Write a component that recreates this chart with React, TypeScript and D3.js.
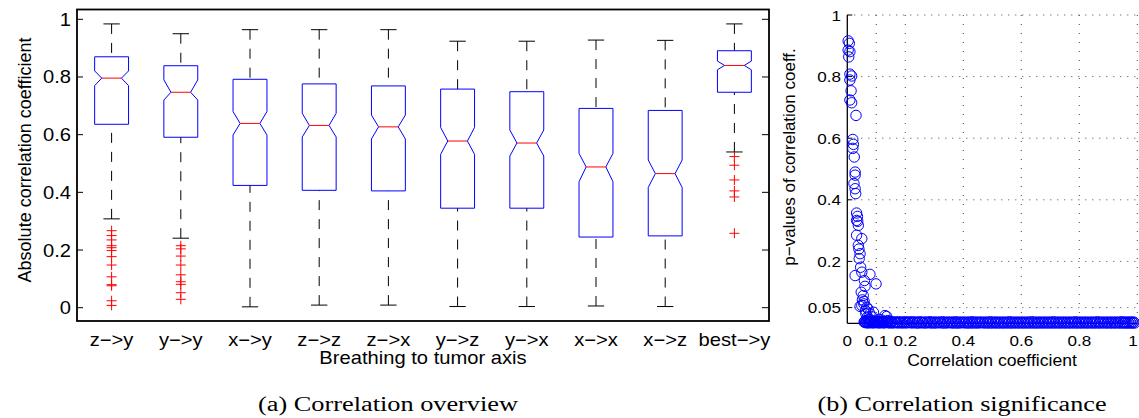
import React from "react";
import * as d3 from "d3";

// ---------- Panel (a): box plot data ----------
const categories = ["z\u2212>y", "y\u2212>y", "x\u2212>y", "z\u2212>z", "z\u2212>x", "y\u2212>z", "y\u2212>x", "x\u2212>x", "x\u2212>z", "best\u2212>y"];
const whiskerHigh = [0.984, 0.950, 0.964, 0.964, 0.964, 0.924, 0.924, 0.928, 0.927, 0.984];
const q3 = [0.870, 0.839, 0.792, 0.776, 0.769, 0.758, 0.749, 0.691, 0.684, 0.891];
const notchHigh = [0.821, 0.790, 0.680, 0.674, 0.668, 0.625, 0.616, 0.535, 0.512, 0.855];
const medians = [0.796, 0.747, 0.639, 0.632, 0.627, 0.578, 0.571, 0.488, 0.465, 0.840];
const notchLow = [0.770, 0.720, 0.599, 0.592, 0.585, 0.532, 0.526, 0.437, 0.417, 0.825];
const q1 = [0.636, 0.591, 0.424, 0.407, 0.405, 0.345, 0.345, 0.245, 0.249, 0.747];
const whiskerLow = [0.308, 0.241, 0.003, 0.009, 0.009, 0.004, 0.004, 0.006, 0.004, 0.540];
const outliersZY = [0.267, 0.250, 0.235, 0.215, 0.208, 0.198, 0.177, 0.148, 0.107, 0.080, 0.076, 0.024, 0.008];
const outliersYY = [0.215, 0.204, 0.179, 0.148, 0.114, 0.090, 0.081, 0.052, 0.029];
const outliersBest = [0.524, 0.494, 0.443, 0.405, 0.384, 0.258];
const outliers = [outliersZY, outliersYY, [], [], [], [], [], [], [], outliersBest];
const leftYTicks = [0, 0.2, 0.4, 0.6, 0.8, 1];

// ---------- Panel (b): scatter data ----------
const upperPoints: [number, number][] = [
  [0.003, 0.916], [0.007, 0.908], [0.003, 0.886], [0.009, 0.881], [0.005, 0.864],
  [0.009, 0.808], [0.015, 0.802], [0.009, 0.789], [0.013, 0.754], [0.009, 0.724],
  [0.015, 0.715], [0.030, 0.674], [0.019, 0.596], [0.021, 0.580], [0.019, 0.567],
  [0.024, 0.539], [0.027, 0.490], [0.027, 0.480], [0.023, 0.453], [0.027, 0.436],
  [0.029, 0.420], [0.032, 0.357], [0.035, 0.346], [0.032, 0.333], [0.036, 0.330],
  [0.038, 0.317], [0.032, 0.285], [0.050, 0.274], [0.038, 0.252], [0.040, 0.240],
  [0.044, 0.225], [0.041, 0.209], [0.046, 0.181], [0.027, 0.154], [0.050, 0.165],
  [0.078, 0.158], [0.059, 0.138], [0.099, 0.127], [0.061, 0.119], [0.048, 0.100],
  [0.055, 0.089], [0.052, 0.075], [0.058, 0.070], [0.057, 0.062], [0.050, 0.057],
  [0.044, 0.054], [0.067, 0.051], [0.072, 0.045], [0.063, 0.040], [0.090, 0.035],
  [0.078, 0.030], [0.064, 0.030], [0.130, 0.024], [0.136, 0.021], [0.085, 0.020],
  [0.070, 0.020], [0.110, 0.012], [0.075, 0.012], [0.118, 0.010], [0.082, 0.008],
  [0.140, 0.008], [0.095, 0.006], [0.061, 0.005], [0.105, 0.004], [0.150, 0.004],
];
const bandCorr = [
  0.058, 0.063, 0.067, 0.071, 0.075, 0.079, 0.083, 0.088, 0.092, 0.097, 0.102, 0.108, 0.113, 0.119,
  0.124, 0.131, 0.137, 0.144, 0.151, 0.158, 0.166, 0.173, 0.181, 0.189, 0.196, 0.204, 0.212, 0.221,
  0.229, 0.238, 0.246, 0.255, 0.263, 0.272, 0.281, 0.289, 0.298, 0.307, 0.316, 0.325, 0.334, 0.343,
  0.352, 0.361, 0.370, 0.379, 0.388, 0.398, 0.407, 0.416, 0.425, 0.434, 0.444, 0.453, 0.462, 0.471,
  0.481, 0.490, 0.499, 0.509, 0.518, 0.527, 0.537, 0.546, 0.556, 0.565, 0.574, 0.584, 0.593, 0.603,
  0.612, 0.622, 0.631, 0.641, 0.650, 0.659, 0.669, 0.678, 0.688, 0.697, 0.707, 0.716, 0.726, 0.735,
  0.745, 0.754, 0.764, 0.773, 0.783, 0.792, 0.802, 0.811, 0.821, 0.830, 0.840, 0.849, 0.858, 0.868,
  0.877, 0.887, 0.896, 0.905, 0.914, 0.923, 0.932, 0.941, 0.949, 0.957, 0.964, 0.971, 0.978, 0.985, 0.991,
];
const bandP = [
  0.003, 0.001, 0.004, 0.000, 0.002, 0.001, 0.003, 0.000, 0.002, 0.001, 0.003, 0.000, 0.001, 0.002,
  0.000, 0.001, 0.002, 0.000, 0.001, 0.000, 0.002, 0.000, 0.001, 0.000, 0.001, 0.000, 0.002, 0.000,
  0.001, 0.000, 0.000, 0.001, 0.000, 0.000, 0.001, 0.000, 0.000, 0.000, 0.001, 0.000, 0.000, 0.000,
  0.001, 0.000, 0.000, 0.000, 0.000, 0.001, 0.000, 0.000, 0.000, 0.000, 0.000, 0.000, 0.001, 0.000,
  0.000, 0.000, 0.000, 0.000, 0.000, 0.000, 0.000, 0.000, 0.000, 0.000, 0.000, 0.000, 0.000, 0.000,
  0.000, 0.000, 0.000, 0.000, 0.000, 0.000, 0.000, 0.000, 0.000, 0.000, 0.000, 0.000, 0.000, 0.000,
  0.000, 0.000, 0.000, 0.000, 0.000, 0.000, 0.000, 0.000, 0.000, 0.000, 0.000, 0.000, 0.000, 0.000,
  0.000, 0.000, 0.000, 0.000, 0.000, 0.000, 0.000, 0.000, 0.000, 0.000, 0.000, 0.000, 0.000, 0.000, 0.000,
];
const bandCorr2 = [
  0.060, 0.065, 0.069, 0.073, 0.077, 0.081, 0.086, 0.090, 0.095, 0.100, 0.105, 0.110, 0.116, 0.121,
  0.127, 0.134, 0.140, 0.147, 0.154, 0.162, 0.169, 0.177, 0.185, 0.192, 0.200, 0.208, 0.216, 0.225,
  0.233, 0.242, 0.250, 0.259, 0.268, 0.276, 0.285, 0.294, 0.302, 0.311, 0.320, 0.329, 0.338, 0.347,
  0.356, 0.365, 0.374, 0.384, 0.393, 0.402, 0.411, 0.420, 0.430, 0.439, 0.448, 0.457, 0.466, 0.476,
  0.485, 0.494, 0.504, 0.513, 0.522, 0.532, 0.541, 0.551, 0.560, 0.569, 0.579, 0.588, 0.598, 0.607,
  0.617, 0.626, 0.636, 0.645, 0.655, 0.664, 0.674, 0.683, 0.693, 0.702, 0.711, 0.721, 0.730, 0.740,
  0.749, 0.759, 0.768, 0.778, 0.787, 0.797, 0.806, 0.816, 0.825, 0.835, 0.844, 0.854, 0.863, 0.872,
  0.882, 0.891, 0.900, 0.909, 0.918, 0.927, 0.936, 0.945, 0.953, 0.960, 0.968, 0.975, 0.982, 0.988,
];
const bandP2 = [
  0.005, 0.006, 0.004, 0.005, 0.003, 0.006, 0.004, 0.005, 0.003, 0.004, 0.005, 0.003, 0.004, 0.003,
  0.005, 0.003, 0.004, 0.003, 0.004, 0.003, 0.003, 0.004, 0.003, 0.003, 0.004, 0.003, 0.003, 0.004,
  0.003, 0.003, 0.004, 0.003, 0.003, 0.003, 0.004, 0.003, 0.003, 0.003, 0.003, 0.004, 0.003, 0.003,
  0.003, 0.003, 0.004, 0.003, 0.003, 0.003, 0.003, 0.003, 0.004, 0.003, 0.003, 0.003, 0.003, 0.003,
  0.003, 0.004, 0.003, 0.003, 0.003, 0.003, 0.003, 0.003, 0.004, 0.003, 0.003, 0.003, 0.003, 0.003,
  0.003, 0.003, 0.004, 0.003, 0.003, 0.003, 0.003, 0.003, 0.003, 0.003, 0.004, 0.003, 0.003, 0.003,
  0.003, 0.003, 0.003, 0.003, 0.004, 0.003, 0.003, 0.003, 0.003, 0.003, 0.003, 0.003, 0.004, 0.003,
  0.003, 0.003, 0.003, 0.003, 0.003, 0.003, 0.003, 0.004, 0.003, 0.003, 0.003, 0.003, 0.003, 0.003,
];
const rightYTicks = [0.05, 0.2, 0.4, 0.6, 0.8, 1];
const rightYLabels = ["0.05", "0.2", "0.4", "0.6", "0.8", "1"];
const rightXTicks = [0, 0.1, 0.2, 0.4, 0.6, 0.8, 1];
const rightXLabels = ["0", "0.1", "0.2", "0.4", "0.6", "0.8", "1"];
const gridX = [0.1, 0.2, 0.4, 0.6, 0.8, 1];
const gridY = [0.05, 0.2, 0.4, 0.6, 0.8, 1];

const FONT = "'Liberation Sans', Arial, Helvetica, sans-serif";

function HText(props: { x: number; y: number; anchor?: string; size: number; sx?: number; children: any; fill?: string }) {
  const { x, y, anchor = "middle", size, sx = 1.12, children, fill = "#000" } = props;
  return (
    <text transform={`translate(${x},${y}) scale(${sx},1)`} textAnchor={anchor} fontSize={size} fontFamily={FONT} fill={fill}>
      {children}
    </text>
  );
}

export default function App() {
  // Panel (a) scales
  const L = { left: 77, right: 769, top: 9.5, bottom: 321 };
  const xA = d3.scaleLinear().domain([0.5, 10.5]).range([L.left, L.right]);
  const yA = d3.scaleLinear().domain([0, 1]).range([307.7, 19.3]);
  const halfW = 0.245;
  const capHalf = 0.118;
  const notchFrac = 0.58;

  // Panel (b) scales
  const R = { left: 847.3, right: 1137.3, top: 15, bottom: 323.3 };
  const xB = d3.scaleLinear().domain([0, 1]).range([R.left, R.right]);
  const yB = d3.scaleLinear().domain([0, 1]).range([323, 15]);

  const bandPoints = bandCorr.map((c, i) => [c, bandP[i]] as [number, number]);
  const bandPoints2 = bandCorr2.map((c, i) => [c, bandP2[i]] as [number, number]);
  const allPoints = [...upperPoints, ...bandPoints2, ...bandPoints];

  const plusPath = (cx: number, cy: number, s: number) => `M${cx - s},${cy}H${cx + s}M${cx},${cy - s}V${cy + s}`;

  return (
    <svg width={1139} height={418} style={{ position: "absolute", left: 0, top: 0, background: "#fff" }}>
      <rect x={0} y={0} width={1139} height={418} fill="#fff" />

      {/* ===== Panel (a) ===== */}
      <g>
        {categories.map((cat, i) => {
          const cx = xA(i + 1);
          const wl = xA(i + 1 - halfW);
          const wr = xA(i + 1 + halfW);
          const nl = xA(i + 1 - halfW * notchFrac);
          const nr = xA(i + 1 + halfW * notchFrac);
          const boxPath = d3.path();
          boxPath.moveTo(wl, yA(q1[i]));
          boxPath.lineTo(wl, yA(notchLow[i]));
          boxPath.lineTo(nl, yA(medians[i]));
          boxPath.lineTo(wl, yA(notchHigh[i]));
          boxPath.lineTo(wl, yA(q3[i]));
          boxPath.lineTo(wr, yA(q3[i]));
          boxPath.lineTo(wr, yA(notchHigh[i]));
          boxPath.lineTo(nr, yA(medians[i]));
          boxPath.lineTo(wr, yA(notchLow[i]));
          boxPath.lineTo(wr, yA(q1[i]));
          boxPath.closePath();
          return (
            <g key={cat}>
              <line x1={cx} x2={cx} y1={yA(whiskerHigh[i])} y2={yA(q3[i])} stroke="#000" strokeWidth={1} strokeDasharray="10,9" />
              <line x1={cx} x2={cx} y1={yA(whiskerLow[i])} y2={yA(q1[i])} stroke="#000" strokeWidth={1} strokeDasharray="10,9" />
              <line x1={xA(i + 1 - capHalf)} x2={xA(i + 1 + capHalf)} y1={yA(whiskerHigh[i])} y2={yA(whiskerHigh[i])} stroke="#000" strokeWidth={1} />
              <line x1={xA(i + 1 - capHalf)} x2={xA(i + 1 + capHalf)} y1={yA(whiskerLow[i])} y2={yA(whiskerLow[i])} stroke="#000" strokeWidth={1} />
              <path d={boxPath.toString()} fill="none" stroke="#0000ff" strokeWidth={1} />
              <line x1={nl} x2={nr} y1={yA(medians[i])} y2={yA(medians[i])} stroke="#ff0000" strokeWidth={1} />
              {outliers[i].map((v, j) => (
                <path key={j} d={plusPath(cx, yA(v), 5)} stroke="#ff0000" strokeWidth={1} fill="none" />
              ))}
              <HText x={cx} y={346} size={18}>{cat}</HText>
            </g>
          );
        })}
        <rect x={L.left} y={L.top} width={L.right - L.left} height={L.bottom - L.top} fill="none" stroke="#000" strokeWidth={1.8} />
        {leftYTicks.map((t) => (
          <g key={t}>
            <line x1={L.left} x2={L.left + 6} y1={yA(t)} y2={yA(t)} stroke="#000" strokeWidth={1} />
            <line x1={L.right - 7} x2={L.right} y1={yA(t)} y2={yA(t)} stroke="#000" strokeWidth={1} />
            <HText x={71} y={yA(t) + 6.5} anchor="end" size={18}>{d3.format("")(t)}</HText>
          </g>
        ))}
        <HText x={423} y={364} size={18}>Breathing to tumor axis</HText>
        <text transform="translate(31,160) rotate(-90)" textAnchor="middle" fontSize={18} fontFamily={FONT}>
          Absolute correlation coefficient
        </text>
      </g>

      {/* ===== Panel (b) ===== */}
      <g>
        {gridY.map((t) => (
          <line key={"gy" + t} x1={R.left} x2={R.right} y1={yB(t)} y2={yB(t)} stroke="#444" strokeWidth={1} strokeDasharray="1,6" />
        ))}
        {gridX.map((t) => (
          <line key={"gx" + t} x1={xB(t)} x2={xB(t)} y1={R.top} y2={R.bottom} stroke="#444" strokeWidth={1} strokeDasharray="1,8" />
        ))}
        <line x1={R.left} x2={R.left} y1={R.top} y2={R.bottom} stroke="#000" strokeWidth={1.3} />
        <line x1={R.left} x2={R.right} y1={R.bottom} y2={R.bottom} stroke="#000" strokeWidth={1.3} />
        {rightYTicks.map((t, i) => (
          <g key={"ry" + t}>
            <line x1={R.left} x2={R.left + 5} y1={yB(t)} y2={yB(t)} stroke="#000" strokeWidth={1} />
            <HText x={841} y={yB(t) + 5.5} anchor="end" size={15.5} sx={1.1}>{rightYLabels[i]}</HText>
          </g>
        ))}
        {rightXTicks.map((t, i) => (
          <HText key={"rx" + t} x={Math.min(xB(t), 1133)} y={346} size={15.5} sx={1.1}>{rightXLabels[i]}</HText>
        ))}
        {allPoints.map((p, i) => (
          <circle key={i} cx={xB(p[0])} cy={yB(p[1])} r={5.2} fill="none" stroke="#0000ff" strokeWidth={1} />
        ))}
        <HText x={992} y={366} size={16} sx={1.1}>Correlation coefficient</HText>
        <text transform="translate(795,157) rotate(-90)" textAnchor="middle" fontSize={17} fontFamily={FONT}>
          p{"\u2212"}values of correlation coeff.
        </text>
      </g>

      {/* ===== Captions ===== */}
      <text x={388} y={411} textAnchor="middle" fontSize={20} fontFamily="'Liberation Serif', 'DejaVu Serif', serif" textLength={260} lengthAdjust="spacingAndGlyphs">
        (a) Correlation overview
      </text>
      <text x={962} y={411} textAnchor="middle" fontSize={20} fontFamily="'Liberation Serif', 'DejaVu Serif', serif" textLength={289} lengthAdjust="spacingAndGlyphs">
        (b) Correlation significance
      </text>
    </svg>
  );
}
